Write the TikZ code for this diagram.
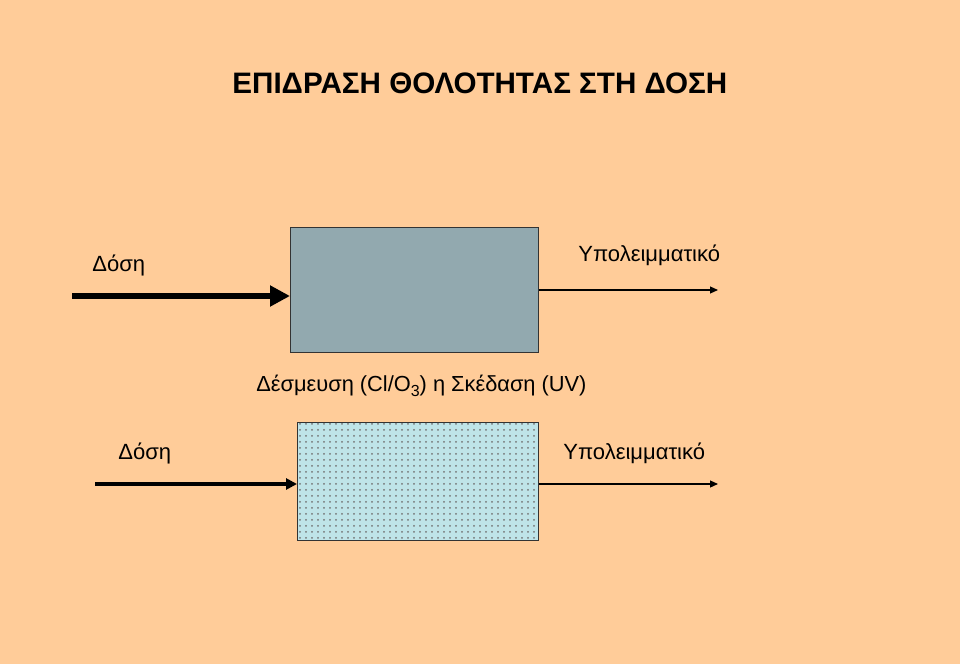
\documentclass[tikz,border=0pt]{standalone}
\usepackage{fontspec}
\setmainfont{Liberation Sans}
\usetikzlibrary{arrows.meta,patterns}
\definecolor{peach}{HTML}{FFCC99}
\definecolor{slatebox}{HTML}{92A9AF}
\definecolor{icebox}{HTML}{BFE4E8}
\tikzset{
  label text/.style={inner sep=0pt, anchor=base west, font=\fontsize{11}{13}\selectfont},
  filter box/.style={draw=black!80, line width=0.6pt, inner sep=0pt, anchor=north west},
  thin out/.style={line width=0.6pt, -{Triangle[length=4pt,width=3.5pt]}}
}
\begin{document}
\begin{tikzpicture}[x=0.5pt,y=-0.5pt]
    \fill[peach] (0,0) rectangle (960,664);
    \node[inner sep=0pt, anchor=base west, font=\bfseries\fontsize{14.8}{18}\selectfont] (title) at (232,93) {ΕΠΙΔΡΑΣΗ ΘΟΛΟΤΗΤΑΣ ΣΤΗ ΔΟΣΗ};

    % upper filter
    \node[filter box, fill=slatebox, minimum width=124pt, minimum height=62.5pt] (box1) at (290,227) {};
    \node[label text] (dose1) at (92,271) {Δόση};
    \node[label text] (rest1) at (578,261) {Υπολειμματικό};
    \coordinate (in1) at (72,296);
    \coordinate (out1) at (718,290);
    \draw[line width=3pt, -{Triangle[length=10pt,width=10pt]}] (in1) -- (in1 -| box1.west);
    \draw[thin out] (out1 -| box1.east) -- (out1);

    \node[label text, font=\fontsize{10.9}{13}\selectfont] (mech) at (256,391) {Δέσμευση (Cl/O\raisebox{-0.45ex}{\fontsize{8}{9}\selectfont 3}) η Σκέδαση (UV)};

    % lower filter
    \node[filter box, fill=icebox, minimum width=120.5pt, minimum height=59pt,
      postaction={pattern=dots, pattern color=black!55}] (box2) at (297,422) {};
    \node[label text] (dose2) at (118,459) {Δόση};
    \node[label text] (rest2) at (563,459) {Υπολειμματικό};
    \coordinate (in2) at (95,484);
    \coordinate (out2) at (718,484);
    \draw[line width=1.8pt, -{Triangle[length=5.5pt,width=5.5pt]}] (in2) -- (in2 -| box2.west);
    \draw[thin out] (out2 -| box2.east) -- (out2);
\end{tikzpicture}
\end{document}
